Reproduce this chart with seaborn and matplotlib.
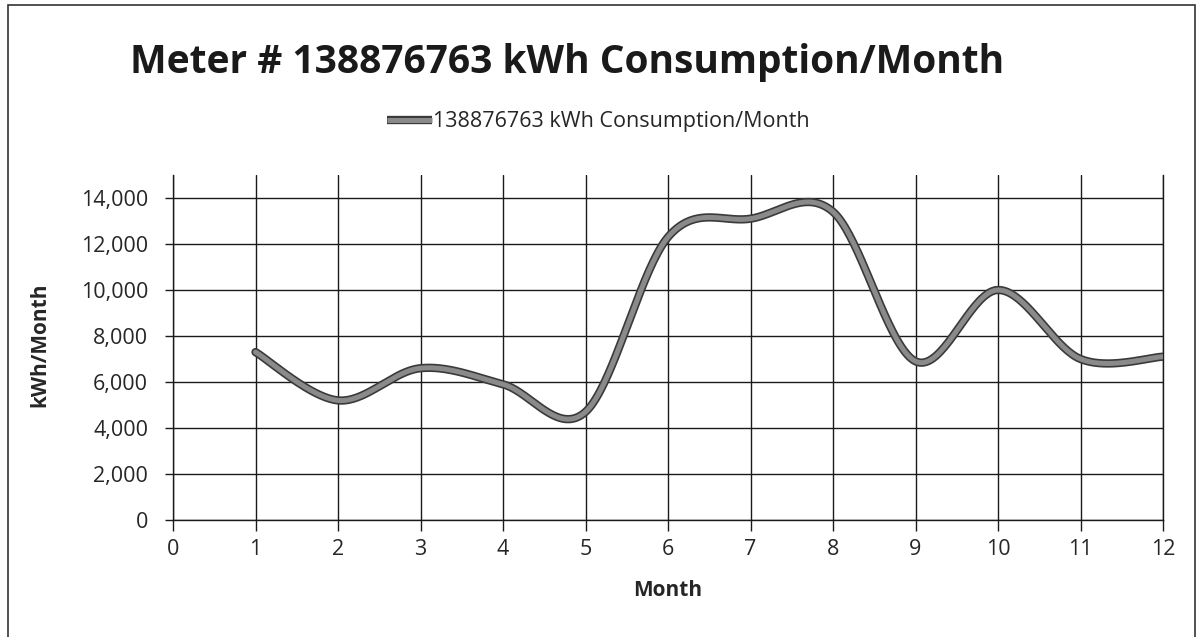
import numpy as np
import pandas as pd
import matplotlib
matplotlib.use("Agg")
import matplotlib.pyplot as plt
import matplotlib.patheffects as pe
from matplotlib.lines import Line2D
from matplotlib.patches import Rectangle
import seaborn as sns

# ---- data ----
months = [1, 2, 3, 4, 5, 6, 7, 8, 9, 10, 11, 12]
kwh = [7300, 5200, 6600, 5900, 4700, 12300, 13100, 13400, 6900, 10000, 7000, 7100]
series_name = "138876763 kWh Consumption/Month"
title = "Meter # 138876763 kWh Consumption/Month"
x_ticks = list(range(0, 13))
y_ticks = list(range(0, 14001, 2000))


def excel_smooth(xs, ys, n=40):
    """Excel-style smoothed line (cubic Bezier, tension 1/6)."""
    xs = np.asarray(xs, float)
    ys = np.asarray(ys, float)
    P = np.column_stack([xs, ys])
    out = []
    m = len(P)
    for i in range(m - 1):
        p0 = P[i]
        p3 = P[i + 1]
        pm = P[i - 1] if i > 0 else P[i]
        pp = P[i + 2] if i + 2 < m else P[i + 1]
        c1 = p0 + (p3 - pm) / 6.0
        c2 = p3 - (pp - p0) / 6.0
        t = np.linspace(0, 1, n, endpoint=(i == m - 2))[:, None]
        seg = ((1 - t) ** 3) * p0 + 3 * ((1 - t) ** 2) * t * c1 + 3 * (1 - t) * t ** 2 * c2 + t ** 3 * p3
        out.append(seg)
    arr = np.vstack(out)
    return arr[:, 0], arr[:, 1]


sx, sy = excel_smooth(months, kwh)
df = pd.DataFrame({"Month": sx, "kWh": sy})

sns.set_theme(style="white")
plt.rcParams["font.family"] = ["Open Sans", "DejaVu Sans"]

fig = plt.figure(figsize=(11.98, 6.37), dpi=100)
ax = fig.add_axes([173 / 1198, 1 - 520 / 637, (1163 - 173) / 1198, (520 - 175) / 637])

line_fx = [pe.Stroke(linewidth=6, foreground="#3a3a3a"), pe.Normal()]
sns.lineplot(data=df, x="Month", y="kWh", ax=ax, color="#8a8a8a", linewidth=3.6,
             sort=False, path_effects=line_fx, zorder=5)

ax.set_xlim(0, 12)
ax.set_ylim(0, 15000)
ax.set_xticks(x_ticks)
ax.set_yticks(y_ticks)
ax.set_yticklabels([f"{v:,}" for v in y_ticks])
ax.grid(True, color="#1a1a1a", linewidth=1.0)
ax.set_axisbelow(True)
ax.spines["top"].set_visible(False)
for s in ["left", "bottom", "right"]:
    ax.spines[s].set_color("#1a1a1a")
    ax.spines[s].set_linewidth(1.0)
ax.tick_params(axis="x", direction="out", length=8, width=1, color="#1a1a1a",
               labelsize=15.5, pad=6, bottom=True)
ax.tick_params(axis="y", direction="out", length=6, width=1, color="#1a1a1a",
               labelsize=15.5, pad=12, left=True)
ax.set_xlabel("Month", fontsize=15, fontweight="bold", labelpad=14)
ax.set_ylabel("")
fig.text(40 / 1198, 1 - 345 / 637, "kWh/Month", rotation=90, fontsize=15,
         fontweight="bold", ha="center", va="center")

fig.text(567 / 1198, 1 - 63 / 637, title, fontsize=28, fontweight="bold",
         ha="center", va="center", color="#1a1a1a")

handle = Line2D([0], [0], color="#8a8a8a", linewidth=3.6, path_effects=line_fx,
                solid_capstyle="butt")
fig.legend([handle], [series_name], loc="center", bbox_to_anchor=(598 / 1198, 1 - 122 / 637),
           frameon=False, fontsize=15.5, handlelength=2.1, handletextpad=0.05)

fig.add_artist(Rectangle((8 / 1198, -0.01), (1195 - 8) / 1198, 1 - 5 / 637 + 0.01,
                         transform=fig.transFigure, fill=False, edgecolor="#333333",
                         linewidth=1.2))

fig.savefig("out.png", dpi=100, facecolor="white")
